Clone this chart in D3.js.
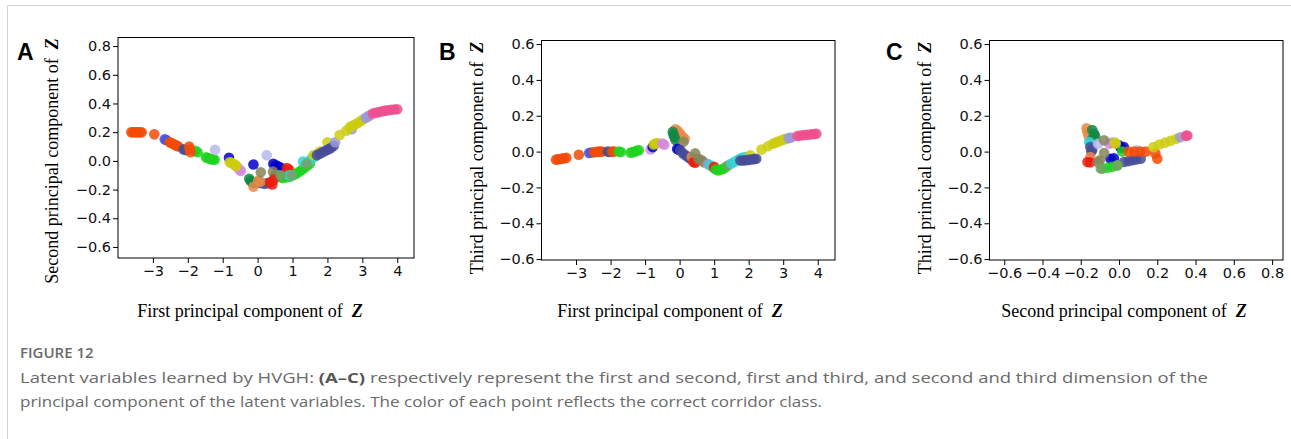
<!DOCTYPE html>
<html>
<head>
<meta charset="utf-8">
<script src="https://cdn.jsdelivr.net/npm/d3@7"></script>
<style>
  body { margin: 0; background: #fff; }
  .axis text { font-family: "DejaVu Sans", sans-serif; font-size: 14.5px; fill: #111; }
  .axis path, .axis line { stroke: #000; stroke-width: 1; }
  .title { font-family: "Liberation Serif", "Times New Roman", serif; font-size: 18px; fill: #000; }
  .letter { font-family: "Liberation Sans", Arial, sans-serif; font-weight: bold; font-size: 23px; }
  .cap { font-family: "Open Sans", sans-serif; font-size: 15px; fill: #6a6a6a; }
</style>
</head>
<body>
<script>
// class colours (corridor classes)
const classColors = ["#f24b06","#4a52d8","#474c96","#1fd41f","#b9b9ec","#0000cc","#cccc0f","#d68ad8",
                     "#0f8a45","#e9894a","#85865a","#ee1c0c","#33d4d4","#9a9ada","#ee4f8e","#78a066"];

// tick labels
const ticksPC1 = [-3,-2,-1,0,1,2,3,4];
const ticksA_y = [-0.6,-0.4,-0.2,0.0,0.2,0.4,0.6,0.8];
const ticksBC_y = [-0.6,-0.4,-0.2,0.0,0.2,0.4,0.6];
const ticksC_x = [-0.6,-0.4,-0.2,0.0,0.2,0.4,0.6,0.8];

// panel A: [first PC, second PC, class]
const pointsA = [
  [-3.62,0.2,0],[-3.57,0.2,0],[-3.52,0.2,0],[-3.47,0.2,0],[-3.42,0.2,0],[-3.37,0.2,0],[-3.32,0.2,0],[-2.96,0.185,0],
  [-2.66,0.15,1],[-2.62,0.145,1],
  [-2.52,0.13,0],[-2.47,0.125,0],[-2.42,0.118,0],[-2.37,0.112,0],[-2.32,0.106,0],[-2.27,0.1,0],
  [-2.12,0.08,2],[-2.06,0.075,2],
  [-1.78,0.07,3],[-1.72,0.06,3],
  [-1.96,0.1,0],[-1.94,0.08,0],[-1.92,0.06,0],
  [-1.48,0.025,3],[-1.43,0.02,3],[-1.38,0.016,3],[-1.33,0.012,3],[-1.28,0.01,3],[-1.23,0.008,3],
  [-1.22,0.077,4],[0.26,0.04,4],
  [-0.82,0.022,5],[-0.12,-0.025,5],[0.45,-0.02,5],[0.52,-0.03,5],[0.6,-0.04,5],[0.68,-0.05,5],
  [-0.58,-0.045,7],[-0.52,-0.06,7],[-0.48,-0.07,7],
  [-0.8,-0.01,6],[-0.75,-0.014,6],[-0.7,-0.02,6],[-0.65,-0.028,6],[-0.61,-0.036,6],
  [0.0,-0.15,2],[0.1,-0.155,2],[0.2,-0.16,2],[0.3,-0.155,2],
  [-0.24,-0.125,8],[-0.2,-0.14,8],[-0.16,-0.148,8],[-0.12,-0.155,8],
  [-0.12,-0.18,9],[0.02,-0.137,9],[0.08,-0.145,9],
  [0.09,-0.08,10],[0.44,-0.075,10],[0.5,-0.1,10],[0.6,-0.1,10],[0.66,-0.112,10],
  [0.36,-0.15,11],[0.42,-0.165,11],[0.46,-0.13,11],[0.84,-0.05,11],[0.9,-0.06,11],
  [0.72,-0.12,3],[0.82,-0.115,3],[0.92,-0.11,3],[1.02,-0.1,3],[1.1,-0.09,3],[1.18,-0.078,3],[1.26,-0.064,3],
  [1.34,-0.05,3],[1.42,-0.034,3],[1.5,-0.018,3],
  [0.9,-0.1,12],[0.97,-0.1,12],[1.3,-0.005,12],[1.48,0.0,12],[1.56,0.02,12],[1.64,0.03,12],
  [0.98,-0.1,15],[1.4,-0.02,15],[0.66,-0.1,15],
  [1.6,0.04,6],[1.78,0.065,6],[2.0,0.13,6],
  [1.7,0.04,2],[1.78,0.05,2],[1.86,0.06,2],[1.94,0.07,2],[2.02,0.08,2],[2.1,0.09,2],[2.18,0.105,2],
  [2.22,0.13,13],[2.7,0.22,13],
  [2.35,0.18,6],[2.54,0.21,6],[2.64,0.235,6],[2.72,0.245,6],[2.8,0.255,6],[2.88,0.266,6],[2.96,0.278,6],[3.03,0.29,6],
  [3.1,0.3,13],[3.16,0.31,13],[3.22,0.318,13],
  [3.3,0.33,14],[3.38,0.335,14],[3.47,0.34,14],[3.56,0.345,14],[3.65,0.35,14],[3.74,0.353,14],[3.83,0.356,14],
  [3.92,0.358,14],[4.0,0.36,14]
];

// panel B: [first PC, third PC, class]
const pointsB = [
  [-3.58,-0.045,0],[-3.52,-0.043,0],[-3.46,-0.041,0],[-3.4,-0.039,0],[-3.34,-0.037,0],[-3.28,-0.035,0],[-2.92,-0.018,0],
  [-2.62,-0.008,1],[-2.56,-0.005,1],
  [-2.48,-0.004,0],[-2.42,-0.002,0],[-2.36,0.0,0],[-2.3,0.0,0],[-2.24,0.0,0],
  [-2.08,0.0,2],[-2.02,-0.002,2],
  [-1.95,0.0,0],[-1.9,0.0,0],
  [-1.76,0.0,3],[-1.7,-0.002,3],
  [-1.42,-0.006,3],[-1.36,-0.004,3],[-1.3,0.0,3],[-1.24,0.004,3],[-1.18,0.008,3],
  [-0.84,0.012,7],[-0.8,0.018,4],[-0.78,0.025,5],
  [-0.75,0.04,6],[-0.7,0.045,6],[-0.65,0.048,6],
  [-0.5,0.045,7],[-0.44,0.038,7],
  [-0.12,0.125,9],[-0.05,0.115,9],[0.02,0.1,9],[0.1,0.08,9],[0.15,0.07,9],
  [-0.2,0.11,8],[-0.18,0.095,8],[-0.15,0.08,8],[-0.12,0.065,8],
  [0.11,0.055,10],
  [-0.07,0.015,5],[-0.02,0.01,5],
  [0.02,0.008,2],[0.1,-0.01,2],[0.17,-0.02,2],[0.24,-0.03,2],[0.31,-0.04,2],
  [0.35,-0.03,9],
  [0.4,-0.058,11],[0.45,-0.062,11],
  [0.45,-0.01,10],[0.55,-0.04,10],[0.64,-0.048,10],[0.7,-0.06,10],
  [0.82,-0.07,13],[0.88,-0.076,12],[0.98,-0.09,15],[1.0,-0.085,11],
  [1.05,-0.1,3],[1.12,-0.105,3],[1.2,-0.1,3],[1.28,-0.095,3],[1.35,-0.085,3],
  [1.41,-0.076,15],
  [1.5,-0.067,12],[1.6,-0.055,12],[1.7,-0.045,12],[1.8,-0.035,12],[1.9,-0.03,12],
  [2.05,-0.02,6],
  [1.76,-0.05,2],[1.84,-0.05,2],[1.92,-0.048,2],[2.0,-0.046,2],[2.08,-0.044,2],[2.16,-0.042,2],[2.22,-0.04,2],
  [2.37,0.011,6],[2.56,0.03,6],[2.7,0.044,6],[2.78,0.05,6],[2.86,0.056,6],[2.94,0.062,6],[3.02,0.068,6],[3.08,0.072,6],
  [3.16,0.075,13],[3.23,0.078,13],
  [3.41,0.087,14],[3.5,0.09,14],[3.6,0.092,14],[3.7,0.094,14],[3.8,0.096,14],[3.9,0.098,14],[3.96,0.1,14]
];

// panel C: [second PC, third PC, class]
const pointsC = [
  [-0.17,0.13,9],[-0.165,0.11,9],[-0.16,0.09,9],
  [-0.14,0.12,8],[-0.13,0.1,8],[-0.125,0.085,8],[-0.14,0.07,8],
  [-0.156,0.053,12],[-0.15,0.045,12],
  [-0.15,0.025,2],[-0.14,0.01,2],[-0.145,0.0,2],
  [-0.11,0.044,4],[0.096,0.007,4],
  [-0.05,0.044,7],[-0.035,0.05,7],
  [0.0,0.035,5],[0.025,0.025,5],[0.01,0.02,5],[-0.027,-0.037,5],[-0.045,-0.04,5],
  [-0.078,0.063,10],
  [-0.017,0.044,6],[-0.02,0.05,6],
  [-0.15,-0.03,9],
  [-0.165,-0.058,11],[-0.15,-0.06,11],
  [-0.078,-0.008,10],[-0.1,-0.048,10],[-0.11,-0.06,10],
  [0.017,0.0,3],
  [0.026,-0.058,2],[0.05,-0.053,2],[0.07,-0.048,2],[0.09,-0.044,2],[0.113,-0.04,2],
  [0.05,0.0,0],[0.08,0.0,0],[0.11,0.0,0],[0.14,0.0,0],
  [-0.087,-0.094,3],[-0.06,-0.09,3],[-0.035,-0.085,3],[-0.01,-0.078,3],
  [-0.095,-0.094,15],[-0.008,-0.076,15],
  [0.19,-0.01,0],[0.2,-0.04,0],
  [0.18,0.025,6],[0.21,0.04,6],[0.24,0.05,6],[0.27,0.06,6],[0.3,0.072,6],
  [0.32,0.08,13],
  [0.35,0.088,14],[0.357,0.09,14]
];

const titlePC1 = "First principal component of ",
      titlePC2 = "Second principal component of ",
      titlePC3 = "Third principal component of ";

const panels = [
  {letter: "A", pts: pointsA, left: 118, right: 414, top: 37.5, bottom: 258,
   xdom: [-4.0, 4.48], ydom: [-0.677, 0.86], xt: ticksPC1, yt: ticksA_y, xf: d3.format("d"),
   xlab: titlePC1, ylab: titlePC2, lx: 17, xlx: 250, ylx: 52, yly: 161},
  {letter: "B", pts: pointsB, left: 541.5, right: 835, top: 40.5, bottom: 260,
   xdom: [-4.0, 4.5], ydom: [-0.605, 0.62], xt: ticksPC1, yt: ticksBC_y, xf: d3.format("d"),
   xlab: titlePC1, ylab: titlePC3, lx: 439, xlx: 670, ylx: 477, yly: 158},
  {letter: "C", pts: pointsC, left: 989.5, right: 1283, top: 40.5, bottom: 260,
   xdom: [-0.677, 0.857], ydom: [-0.605, 0.62], xt: ticksC_x, yt: ticksBC_y, xf: d3.format(".1f"),
   xlab: titlePC2, ylab: titlePC3, lx: 886, xlx: 1124, ylx: 925, yly: 158}
];

const svg = d3.select("body").append("svg").attr("width", 1291).attr("height", 439);

// page frame lines
svg.append("line").attr("x1", 7).attr("x2", 1291).attr("y1", 5.5).attr("y2", 5.5).attr("stroke", "#d4d4d4");
svg.append("line").attr("x1", 7.5).attr("x2", 7.5).attr("y1", 5).attr("y2", 439).attr("stroke", "#d4d4d4");

panels.forEach(p => {
  const x = d3.scaleLinear().domain(p.xdom).range([p.left, p.right]),
      y = d3.scaleLinear().domain(p.ydom).range([p.bottom, p.top]);

  const g = svg.append("g");

  g.append("g").selectAll("circle")
    .data(p.pts)
    .join("circle")
    .attr("cx", d => x(d[0]))
    .attr("cy", d => y(d[1]))
    .attr("r", 5.3)
    .attr("fill", d => classColors[d[2]])
    .attr("fill-opacity", 0.85);

  g.append("rect")
    .attr("x", p.left).attr("y", p.top)
    .attr("width", p.right - p.left).attr("height", p.bottom - p.top)
    .attr("fill", "none").attr("stroke", "#000");

  g.append("g").attr("class", "axis")
    .attr("transform", "translate(0," + p.bottom + ")")
    .call(d3.axisBottom(x).tickValues(p.xt).tickFormat(p.xf).tickSize(5).tickPadding(3).tickSizeOuter(0))
    .call(a => a.select(".domain").remove());

  g.append("g").attr("class", "axis")
    .attr("transform", "translate(" + p.left + ",0)")
    .call(d3.axisLeft(y).tickValues(p.yt).tickFormat(d3.format(".1f")).tickSize(5).tickPadding(2).tickSizeOuter(0))
    .call(a => a.select(".domain").remove());

  g.append("text").attr("class", "letter").attr("x", p.lx).attr("y", 60).text(p.letter);

  const xt = g.append("text").attr("class", "title")
    .attr("x", p.xlx).attr("y", 317).attr("text-anchor", "middle");
  xt.append("tspan").text(p.xlab + "\u00a0");
  xt.append("tspan").attr("font-weight", "bold").attr("font-style", "italic").text("Z");

  const yt = g.append("text").attr("class", "title")
    .attr("transform", "translate(" + p.ylx + "," + p.yly + ") rotate(-90)")
    .attr("text-anchor", "middle").attr("dy", "0.35em");
  yt.append("tspan").text(p.ylab + "\u00a0");
  yt.append("tspan").attr("font-weight", "bold").attr("font-style", "italic").text("Z");
});

// caption
svg.append("text").attr("class", "cap").attr("x", 20).attr("y", 358)
  .attr("font-weight", 600).attr("fill", "#5a5a5a").text("FIGURE 12");

const c1 = svg.append("text").attr("class", "cap").attr("x", 20).attr("y", 383)
  .attr("textLength", 1188).attr("lengthAdjust", "spacingAndGlyphs");
c1.append("tspan").text("Latent variables learned by HVGH: ");
c1.append("tspan").attr("font-weight", "bold").attr("fill", "#555").text("(A\u2013C)");
c1.append("tspan").text(" respectively represent the first and second, first and third, and second and third dimension of the");

svg.append("text").attr("class", "cap").attr("x", 20).attr("y", 407)
  .attr("textLength", 802).attr("lengthAdjust", "spacingAndGlyphs")
  .text("principal component of the latent variables. The color of each point reflects the correct corridor class.");
</script>
</body>
</html>
